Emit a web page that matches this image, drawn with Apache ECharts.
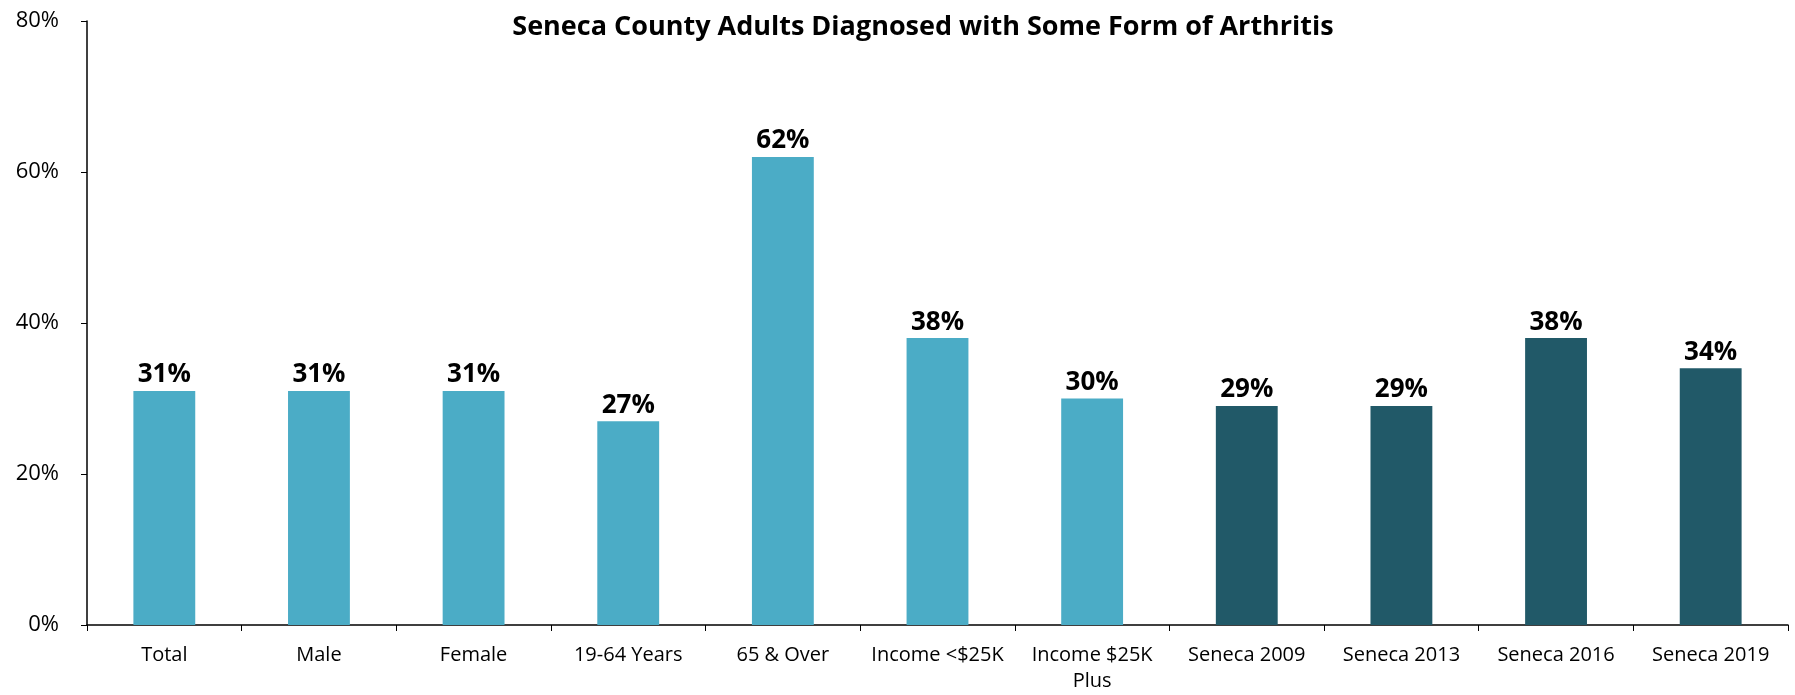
<!DOCTYPE html>
<html><head><meta charset="utf-8">
<script src="https://cdn.jsdelivr.net/npm/echarts@6/dist/echarts.min.js"></script>
<style>html,body{margin:0;padding:0;background:#fff}#c{width:1795px;height:695px}</style>
</head><body><div id="c"></div>
<script>
const title = 'Seneca County Adults Diagnosed with Some Form of Arthritis';
const categories = ['Total','Male','Female','19-64 Years','65 & Over','Income <$25K','Income $25K\nPlus','Seneca 2009','Seneca 2013','Seneca 2016','Seneca 2019'];
const values = [31,31,31,27,62,38,30,29,29,38,34];
const groups = ['sub','sub','sub','sub','sub','sub','sub','trend','trend','trend','trend'];
const yTicks = [0,20,40,60,80];
const colors = {sub:'#4BACC6', trend:'#215968'};

const chart = echarts.init(document.getElementById('c'), null, {renderer:'canvas'});
chart.setOption({
  animation:false,
  title:{text:title,left:918,textAlign:'center',top:9,textStyle:{fontFamily:'Open Sans',fontWeight:'bold',fontSize:27,color:'#000'}},
  grid:{left:87,right:7,top:21,bottom:70,containLabel:false},
  xAxis:{type:'category',data:categories,
    axisLine:{lineStyle:{color:'#000',width:1.5}},
    axisTick:{show:true,alignWithLabel:false,length:6,lineStyle:{color:'#000'}},
    axisLabel:{interval:0,color:'#000',fontFamily:'Open Sans',fontSize:20,margin:17,lineHeight:26}},
  yAxis:{type:'value',min:yTicks[0],max:yTicks[yTicks.length-1],interval:20,
    axisLine:{show:true,lineStyle:{color:'#000',width:1.5}},
    axisTick:{show:true,length:6,lineStyle:{color:'#000'}},
    splitLine:{show:false},
    axisLabel:{formatter:'{value}%',color:'#000',fontFamily:'Open Sans',fontSize:22,margin:28}},
  series:[{type:'bar',barCategoryGap:'60%',
    data:values.map((v,i)=>({value:v,itemStyle:{color:colors[groups[i]]}})),
    label:{show:true,position:'top',distance:3,formatter:'{c}%',color:'#000',fontFamily:'Open Sans',fontWeight:'bold',fontSize:26}}]
});
</script></body></html>
